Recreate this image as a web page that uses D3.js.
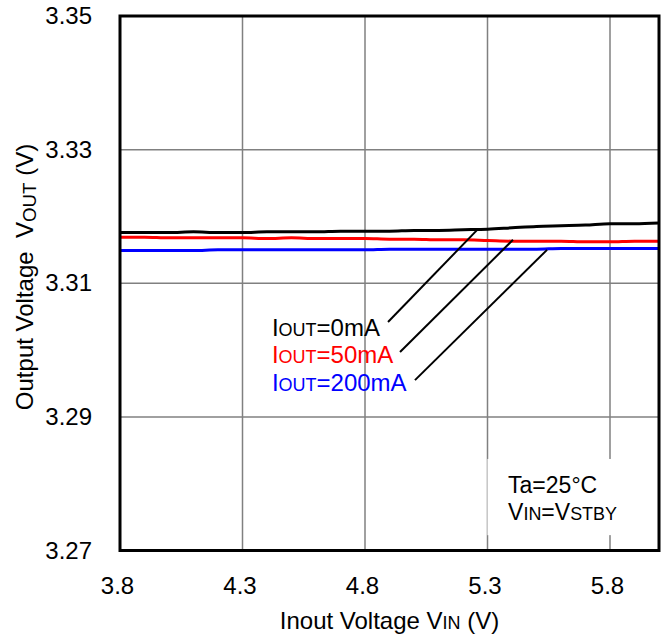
<!DOCTYPE html>
<html>
<head>
<meta charset="utf-8">
<script src="https://cdn.jsdelivr.net/npm/d3@7"></script>
<style>
  body { margin: 0; background: #fff; }
  svg text { font-family: Arial, "Liberation Sans", sans-serif; fill: #000; }
</style>
</head>
<body>
<div id="chart"></div>
<script>
// input voltage (V)
const vin = [3.8, 3.9, 4.0, 4.1, 4.2, 4.3, 4.4, 4.5, 4.6, 4.7, 4.8, 4.9,
             5.0, 5.1, 5.2, 5.3, 5.4, 5.5, 5.6, 5.7, 5.8, 5.9, 6.0];
// output voltage (V) per load current
const vout0mA = [3.3176, 3.3176, 3.3176, 3.3177, 3.3176, 3.3176, 3.3177, 3.3177, 3.3177, 3.3178, 3.3178, 3.3178,
                 3.3179, 3.3179, 3.3180, 3.3181, 3.3183, 3.3185, 3.3186, 3.3187, 3.3189, 3.3189, 3.3190];
const vout50mA = [3.3169, 3.3169, 3.3168, 3.3168, 3.3168, 3.3168, 3.3167, 3.3168, 3.3167, 3.3167, 3.3167, 3.3166,
                  3.3166, 3.3165, 3.3165, 3.3164, 3.3163, 3.3163, 3.3163, 3.3162, 3.3162, 3.3163, 3.3163];
const vout200mA = [3.3149, 3.3149, 3.3149, 3.3149, 3.3150, 3.3150, 3.3150, 3.3150, 3.3150, 3.3150, 3.3150, 3.3151,
                   3.3151, 3.3151, 3.3151, 3.3151, 3.3151, 3.3151, 3.3152, 3.3152, 3.3152, 3.3152, 3.3152];

const xTicks = [3.8, 4.3, 4.8, 5.3, 5.8];
const yTicks = [3.27, 3.29, 3.31, 3.33, 3.35];

const seriesNames = ['0mA', '50mA', '200mA'];
const seriesColors = ['#000000', '#ff0000', '#0000ff'];
const seriesValues = [vout0mA, vout50mA, vout200mA];

// leader lines: label end -> curve (in data units)
const leaderFrom = [[4.894, 3.3042], [4.943, 3.2997], [5.004, 3.2955]];
const leaderTo = [[5.261, 3.3181], [5.404, 3.3165], [5.543, 3.3150]];
const labelAt = [[4.42, 3.3021], [4.42, 3.2980], [4.42, 3.2939]];

const width = 665, height = 639;
const margin = { top: 16, right: 6, bottom: 88.5, left: 120 };
const fs = 24;

const svg = d3.select('#chart').append('svg')
  .attr('width', width)
  .attr('height', height);

const x = d3.scaleLinear().domain([3.8, 6.0]).range([margin.left, width - margin.right]);
const y = d3.scaleLinear().domain([3.27, 3.35]).range([height - margin.bottom, margin.top]);

// grid
svg.append('g')
  .selectAll('line.vg')
  .data(xTicks.slice(1))
  .enter().append('line')
  .attr('x1', d => x(d)).attr('x2', d => x(d))
  .attr('y1', y(3.35)).attr('y2', y(3.27))
  .attr('stroke', '#808080').attr('stroke-width', 1.5);

svg.append('g')
  .selectAll('line.hg')
  .data(yTicks.slice(1, -1))
  .enter().append('line')
  .attr('x1', x(3.8)).attr('x2', x(6.0))
  .attr('y1', d => y(d)).attr('y2', d => y(d))
  .attr('stroke', '#808080').attr('stroke-width', 1.5);

// condition box
svg.append('rect')
  .attr('x', x(5.3)).attr('y', y(3.2837))
  .attr('width', x(6.0) - x(5.3)).attr('height', y(3.2723) - y(3.2837))
  .attr('fill', '#fff');
svg.append('line')
  .attr('x1', x(5.3)).attr('x2', x(5.3))
  .attr('y1', y(3.2837)).attr('y2', y(3.2723))
  .attr('stroke', '#c8c8c8').attr('stroke-width', 1);

const cfs = 23;
const cond = svg.append('g');
cond.append('text')
  .attr('x', x(5.384)).attr('y', y(3.2786))
  .attr('font-size', cfs)
  .text('Ta=25°C');
const c2 = cond.append('text')
  .attr('x', x(5.384)).attr('y', y(3.2746))
  .attr('font-size', cfs);
c2.append('tspan').text('V');
c2.append('tspan').attr('font-size', cfs * 0.78).text('IN');
c2.append('tspan').text('=V');
c2.append('tspan').attr('font-size', cfs * 0.78).text('STBY');

// curves
const line = d3.line()
  .x((d, i) => x(vin[i]))
  .y(d => y(d))
  .curve(d3.curveMonotoneX);

svg.append('g')
  .selectAll('path')
  .data(seriesValues)
  .enter().append('path')
  .attr('d', d => line(d))
  .attr('fill', 'none')
  .attr('stroke', (d, i) => seriesColors[i])
  .attr('stroke-width', 3);

// leader lines
svg.append('g')
  .selectAll('line')
  .data(leaderFrom)
  .enter().append('line')
  .attr('x1', d => x(d[0])).attr('y1', d => y(d[1]))
  .attr('x2', (d, i) => x(leaderTo[i][0])).attr('y2', (d, i) => y(leaderTo[i][1]))
  .attr('stroke', '#000').attr('stroke-width', 2);

// series labels
const labels = svg.append('g')
  .selectAll('text')
  .data(seriesNames)
  .enter().append('text')
  .attr('x', (d, i) => x(labelAt[i][0]))
  .attr('y', (d, i) => y(labelAt[i][1]))
  .attr('font-size', fs)
  .style('fill', (d, i) => seriesColors[i]);
labels.append('tspan').text('I');
labels.append('tspan').attr('font-size', fs * 0.75).text('OUT');
labels.append('tspan').text(d => '=' + d);

// frame
svg.append('rect')
  .attr('x', x(3.8)).attr('y', y(3.35))
  .attr('width', x(6.0) - x(3.8)).attr('height', y(3.27) - y(3.35))
  .attr('fill', 'none').attr('stroke', '#000').attr('stroke-width', 3);

// axes (labels only)
const xAxis = svg.append('g')
  .attr('transform', `translate(-3,${y(3.27)})`)
  .call(d3.axisBottom(x).tickValues(xTicks).tickFormat(d3.format('.1f')).tickSize(0).tickPadding(26));
xAxis.select('.domain').remove();
xAxis.selectAll('text').attr('font-size', fs).attr('font-family', 'Arial, "Liberation Sans", sans-serif');

const yAxis = svg.append('g')
  .attr('transform', `translate(${x(3.8) - 28},0)`)
  .call(d3.axisLeft(y).tickValues(yTicks).tickFormat(d3.format('.2f')).tickSize(0).tickPadding(0));
yAxis.select('.domain').remove();
yAxis.selectAll('text').attr('font-size', fs).attr('font-family', 'Arial, "Liberation Sans", sans-serif');

// axis titles
const xt = svg.append('text')
  .attr('x', (x(3.8) + x(6.0)) / 2)
  .attr('y', 629)
  .attr('text-anchor', 'middle')
  .attr('font-size', fs);
xt.append('tspan').text('Inout Voltage V');
xt.append('tspan').attr('font-size', fs * 0.75).text('IN');
xt.append('tspan').text(' (V)');

const yt = svg.append('text')
  .attr('transform', `translate(33,277) rotate(-90)`)
  .attr('text-anchor', 'middle')
  .attr('font-size', fs)
  .attr('xml:space', 'preserve')
  .style('white-space', 'pre');
yt.append('tspan').text('Output Voltage  V');
yt.append('tspan').attr('font-size', fs * 0.78).attr('dy', 3).text('OUT');
yt.append('tspan').attr('dy', -3).text(' (V)');
</script>
</body>
</html>
